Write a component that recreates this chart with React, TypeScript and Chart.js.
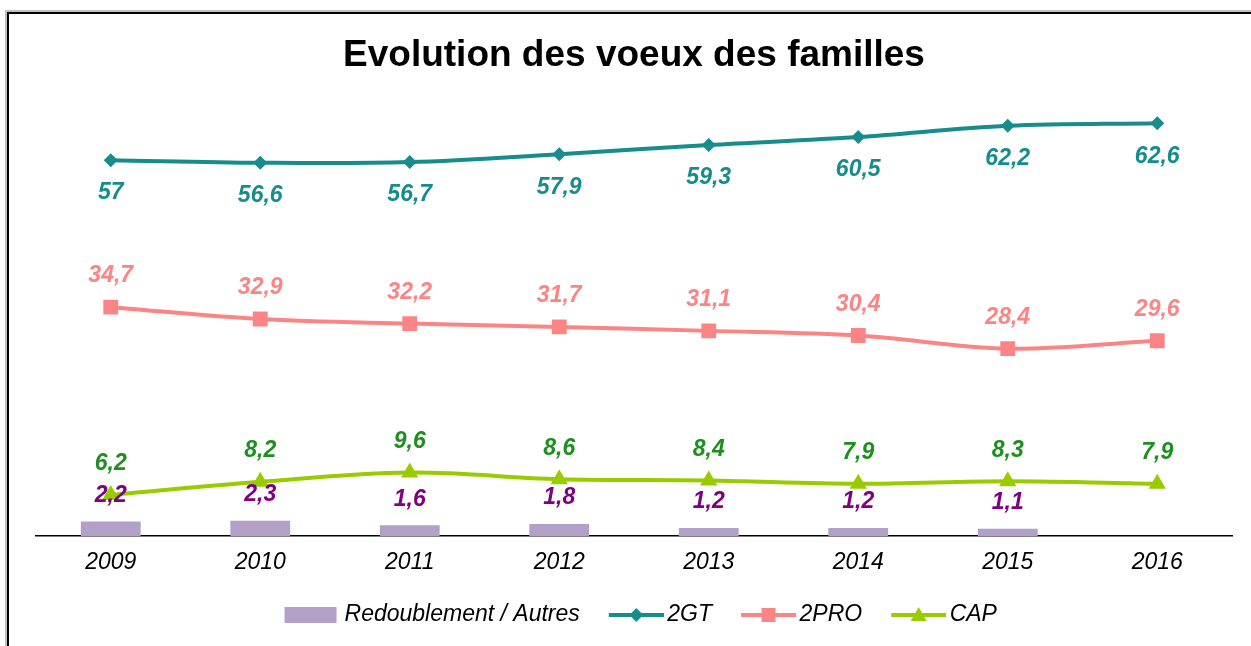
import React, { useEffect, useRef } from "react";
import { Chart, registerables } from "chart.js";

Chart.register(...registerables);

const categories = ["2009", "2010", "2011", "2012", "2013", "2014", "2015", "2016"];
const redoublement = [2.2, 2.3, 1.6, 1.8, 1.2, 1.2, 1.1, null];
const gt2 = [57, 56.6, 56.7, 57.9, 59.3, 60.5, 62.2, 62.6];
const pro2 = [34.7, 32.9, 32.2, 31.7, 31.1, 30.4, 28.4, 29.6];
const cap = [6.2, 8.2, 9.6, 8.6, 8.4, 7.9, 8.3, 7.9];
const seriesNames = ["Redoublement / Autres", "2GT", "2PRO", "CAP"];
const titleText = "Evolution des voeux des familles";

const FONT = "Arial, 'Liberation Sans', sans-serif";
const C_BAR = "#b1a0c7";
const C_BAR_LBL = "#800080";
const C_GT = "#178c8c";
const C_PRO = "#fb8585";
const C_CAP = "#99cc00";
const C_CAP_LBL = "#1e8f1e";

const BOX_W = 62;
const CANVAS_W = 78;

function legendIcon(kind: string, color: string): HTMLCanvasElement {
  const c = document.createElement("canvas");
  c.width = CANVAS_W;
  c.height = 22;
  const ctx = c.getContext("2d")!;
  ctx.fillStyle = color;
  ctx.strokeStyle = color;
  if (kind === "bar") {
    ctx.fillRect(21.5, 3, 52, 16);
    return c;
  }
  const x0 = 23;
  const x1 = 78;
  ctx.lineWidth = 4;
  ctx.beginPath();
  ctx.moveTo(x0, 11);
  ctx.lineTo(x1, 11);
  ctx.stroke();
  const cx = (x0 + x1) / 2;
  ctx.beginPath();
  if (kind === "diamond") {
    ctx.moveTo(cx, 4);
    ctx.lineTo(cx + 7, 11);
    ctx.lineTo(cx, 18);
    ctx.lineTo(cx - 7, 11);
  } else if (kind === "square") {
    ctx.rect(cx - 7, 4, 14, 14);
  } else {
    ctx.moveTo(cx, 3);
    ctx.lineTo(cx + 8, 17);
    ctx.lineTo(cx - 8, 17);
  }
  ctx.closePath();
  ctx.fill();
  return c;
}

const fmt = (v: number) => String(v).replace(".", ",");

const labelOffsets = [-26, 33, -31, -31];
const labelColors = [C_BAR_LBL, C_GT, C_PRO, C_CAP_LBL];

const valueLabels = {
  id: "valueLabels",
  afterDatasetsDraw(chart: any) {
    const ctx = chart.ctx;
    ctx.save();
    ctx.font = `italic bold 23px ${FONT}`;
    ctx.textAlign = "center";
    ctx.textBaseline = "middle";
    chart.data.datasets.forEach((ds: any, i: number) => {
      const meta = chart.getDatasetMeta(i);
      meta.data.forEach((el: any, j: number) => {
        const v = ds.data[j];
        if (v == null) return;
        const { x, y } = el.getProps(["x", "y"], true);
        ctx.fillStyle = labelColors[i];
        ctx.fillText(fmt(v), x, y + labelOffsets[i]);
      });
    });
    ctx.restore();
  },
};

export default function App() {
  const ref = useRef<HTMLCanvasElement | null>(null);

  useEffect(() => {
    if (!ref.current) return;
    const icons = [
      legendIcon("bar", C_BAR),
      legendIcon("diamond", C_GT),
      legendIcon("square", C_PRO),
      legendIcon("triangle", C_CAP),
    ];
    const chart = new Chart(ref.current, {
      type: "bar",
      data: {
        labels: categories,
        datasets: [
          {
            type: "bar",
            label: seriesNames[0],
            data: redoublement as any,
            backgroundColor: C_BAR,
            categoryPercentage: 0.8,
            barPercentage: 0.5,
            order: 10,
          },
          {
            type: "line",
            label: seriesNames[1],
            data: gt2,
            borderColor: C_GT,
            backgroundColor: C_GT,
            borderWidth: 4,
            pointStyle: "rectRot",
            pointRadius: 7,
            pointBorderWidth: 0,
            tension: 0.35,
            order: 1,
          },
          {
            type: "line",
            label: seriesNames[2],
            data: pro2,
            borderColor: C_PRO,
            backgroundColor: C_PRO,
            borderWidth: 4,
            pointStyle: "rect",
            pointRadius: 10.5,
            pointBorderWidth: 0,
            tension: 0.35,
            order: 2,
          },
          {
            type: "line",
            label: seriesNames[3],
            data: cap,
            borderColor: C_CAP,
            backgroundColor: C_CAP,
            borderWidth: 4,
            pointStyle: "triangle",
            pointRadius: 10,
            pointBorderWidth: 0,
            tension: 0.35,
            order: 3,
          },
        ],
      },
      options: {
        animation: false,
        responsive: false,
        devicePixelRatio: 1,
        layout: { padding: { left: 36, right: 19, top: 0, bottom: 9.5 } },
        scales: {
          x: {
            offset: true,
            grid: { display: false, drawTicks: false },
            border: { display: true, color: "#000", width: 1.5 },
            ticks: {
              padding: 13,
              color: "#000",
              font: { family: FONT, size: 23, style: "italic" },
            },
          },
          y: { display: false, min: 0, max: 66 },
        },
        plugins: {
          title: {
            display: true,
            text: titleText,
            color: "#000",
            font: { family: FONT, size: 37, weight: "bold" },
            padding: { top: 34, bottom: 22.4 },
          },
          legend: {
            position: "bottom",
            labels: {
              usePointStyle: true,
              pointStyleWidth: BOX_W,
              padding: 14,
              color: "#000",
              font: { family: FONT, size: 23, style: "italic" },
              generateLabels: (ch: any) => {
                const items = (Chart as any).defaults.plugins.legend.labels.generateLabels(ch);
                return items
                  .map((it: any) => ({ ...it, pointStyle: icons[it.datasetIndex] }))
                  .sort((a: any, b: any) => a.datasetIndex - b.datasetIndex);
              },
            },
          },
          tooltip: { enabled: false },
        },
      } as any,
      plugins: [valueLabels],
    });
    return () => chart.destroy();
  }, []);

  return (
    <div
      style={{
        position: "fixed",
        left: 0,
        top: 0,
        width: 1251,
        height: 646,
        overflow: "hidden",
        background: "#fff",
      }}
    >
      <div
        style={{
          position: "absolute",
          left: 5,
          top: 10,
          width: 1400,
          height: 800,
          borderTop: "2px solid #c0c0c0",
          borderLeft: "2px solid #c0c0c0",
        }}
      />
      <div
        style={{
          position: "absolute",
          left: 7,
          top: 12,
          width: 1400,
          height: 800,
          borderTop: "2px solid #000",
          borderLeft: "2px solid #000",
        }}
      />
      <canvas
        ref={ref}
        width={1251}
        height={646}
        style={{ position: "absolute", left: 0, top: 0, width: 1251, height: 646 }}
      />
    </div>
  );
}
